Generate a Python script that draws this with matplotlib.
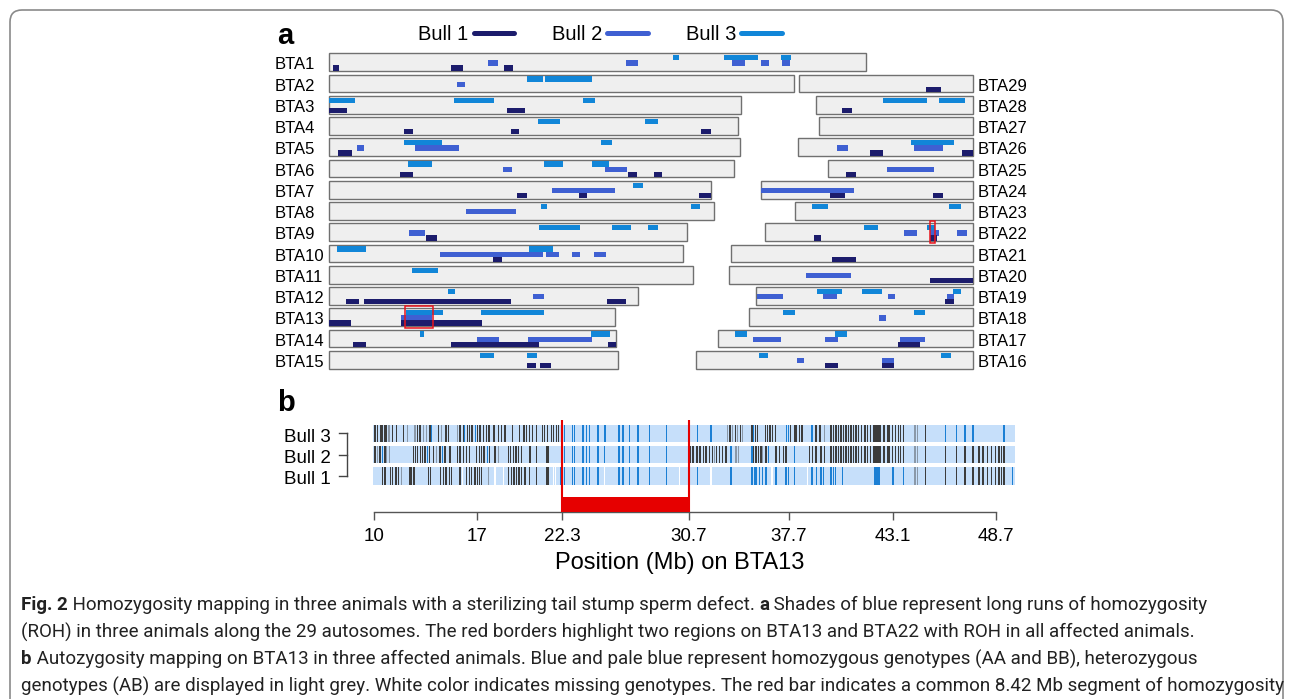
import numpy as np
import matplotlib
matplotlib.use("Agg")
import matplotlib.pyplot as plt
from matplotlib.patches import Rectangle, FancyBboxPatch
from matplotlib.lines import Line2D
from matplotlib.font_manager import FontProperties

plt.rcParams['font.family'] = ['Liberation Sans', 'DejaVu Sans']

W, H = 1293, 699

# chromosome lengths (Mb), BTA1..BTA29
chrom_lengths = [158.3, 137.1, 121.4, 120.7, 121.2, 119.5, 112.6, 113.4, 105.7, 104.3,
                 107.3, 91.2, 84.2, 84.6, 85.3, 81.7, 75.2, 66.0, 64.1, 72.0,
                 71.6, 61.4, 52.5, 62.7, 42.9, 51.7, 45.4, 46.3, 51.5]

bull_names = ['Bull 1', 'Bull 2', 'Bull 3']
bull_colors = ['#1c1c6c', '#3f60d2', '#1186d8']

# runs of homozygosity: (chromosome, start Mb, end Mb)
bull1_roh = [(1, 1.3, 3.0), (1, 36.0, 39.6), (1, 51.6, 54.4),
             (3, 0.0, 5.4), (3, 52.4, 57.9),
             (4, 22.1, 24.8), (4, 53.6, 56.0), (4, 109.8, 112.7),
             (5, 2.6, 6.9),
             (6, 20.9, 24.8), (6, 88.1, 90.9), (6, 95.7, 98.1),
             (7, 55.4, 58.3), (7, 73.8, 76.0), (7, 109.2, 112.6),
             (9, 28.7, 31.9), (10, 48.5, 51.0),
             (12, 4.9, 8.8), (12, 10.4, 53.6), (12, 81.9, 87.7),
             (13, 0.0, 6.6), (13, 21.1, 45.1),
             (14, 7.0, 10.8), (14, 36.0, 62.0), (14, 82.2, 84.6),
             (15, 58.3, 61.1), (15, 62.2, 65.5),
             (16, 38.0, 41.7), (16, 54.8, 58.4), (17, 53.0, 59.5),
             (19, 55.9, 58.3), (20, 59.3, 72.0), (21, 30.0, 36.9),
             (22, 14.4, 16.6), (22, 48.7, 50.6),
             (24, 20.5, 25.0), (24, 50.7, 53.8), (25, 5.5, 8.4),
             (26, 21.1, 25.2), (26, 48.3, 51.7), (28, 7.6, 10.6), (29, 37.6, 42.0)]

bull2_roh = [(1, 46.8, 49.9), (1, 87.6, 91.2), (1, 118.8, 122.8), (1, 127.3, 129.9), (1, 133.6, 135.8),
             (2, 37.7, 40.2), (5, 8.2, 10.3), (5, 25.3, 38.4),
             (6, 51.2, 54.1), (6, 81.4, 87.8), (7, 65.9, 84.2), (8, 40.3, 55.2), (9, 23.5, 28.3),
             (10, 32.7, 63.2), (10, 63.9, 67.8), (10, 71.8, 74.1), (10, 78.2, 81.7),
             (12, 60.3, 63.4), (13, 21.1, 30.5), (14, 43.7, 50.1), (14, 58.7, 77.5),
             (16, 29.6, 31.8), (16, 54.8, 58.4),
             (17, 10.3, 18.5), (17, 31.4, 35.3), (17, 53.6, 61.0), (18, 38.1, 40.3),
             (19, 0.4, 7.9), (19, 19.7, 23.8), (19, 38.9, 41.0), (19, 56.3, 58.3),
             (20, 22.6, 36.0), (22, 41.0, 44.8), (22, 48.5, 51.2), (22, 56.6, 59.4),
             (24, 0.2, 27.6), (25, 17.5, 31.4), (26, 11.6, 14.8), (26, 34.3, 42.8)]

bull3_roh = [(1, 101.3, 103.3), (1, 116.6, 126.6), (1, 133.3, 136.3),
             (2, 58.3, 63.0), (2, 63.7, 77.5),
             (3, 0.0, 7.7), (3, 36.8, 48.8), (3, 74.9, 78.4),
             (4, 61.5, 68.2), (4, 93.2, 97.0), (5, 22.1, 33.4), (5, 80.1, 83.5),
             (6, 23.2, 30.5), (6, 63.4, 68.9), (6, 77.5, 82.7), (7, 89.6, 92.7),
             (8, 62.5, 64.4), (8, 106.8, 109.5),
             (9, 61.9, 74.1), (9, 83.5, 89.0), (9, 94.0, 97.0),
             (10, 2.4, 11.0), (10, 58.9, 66.0), (11, 24.6, 32.2), (12, 35.1, 37.3),
             (13, 22.6, 33.7), (13, 44.8, 63.5), (14, 26.8, 28.1), (14, 77.3, 82.9),
             (15, 44.5, 48.8), (15, 58.3, 61.4), (16, 18.5, 21.2), (16, 72.1, 75.2),
             (17, 4.9, 8.6), (17, 34.3, 37.9), (18, 9.9, 13.4), (18, 48.6, 51.8),
             (19, 18.1, 25.3), (19, 31.2, 37.3), (19, 58.1, 60.5),
             (22, 29.1, 33.3), (22, 47.8, 50.0), (23, 4.8, 9.6), (23, 45.4, 49.0),
             (26, 33.3, 46.1), (28, 19.8, 32.5), (28, 36.2, 43.8)]

common_roh = [(13, 22.3, 30.7), (22, 48.6, 50.0)]

# panel b: BTA13 markers (marker index), ticks in Mb
tick_mb = [10, 17, 22.3, 30.7, 37.7, 43.1, 48.7]
tick_idx = [0, 103, 188, 315, 415, 519, 622]
n_markers = 641
segment_mb = [22.3, 30.7]

bull3_het = [1, 3.3, 7, 8.7, 11, 12.7, 18.7, 22.7, 29.3, 43.7, 46, 56, 64.3, 72, 74.3, 86, 89.3, 93.3,
             95.3, 98, 103.3, 106, 109.3, 112.7, 115, 120, 124.3, 127.7, 131, 138.7, 145.3, 150, 152.7,
             155.3, 158.7, 162.3, 168.3, 170.7, 173.3, 177.3, 179.7, 182.3, 184.7, 356, 361.3, 366.3,
             378, 381.3, 383.7, 391.3, 393.7, 396, 398.7, 401.3, 416.3, 420.3, 422, 425.3, 428, 442,
             446, 457, 459.3, 462, 464.7, 467, 469.3, 472, 474.7, 477, 479.3, 482, 484.7, 487.3, 491,
             493.3, 496.7, 500, 501.5, 503, 504.5, 506, 510, 513.3, 515, 518.3, 521.7, 524.3, 526.7,
             529.3, 551.7]
bull3_faint = [15, 33.7, 41, 49.3, 52.7, 67.7, 83.3, 353.7, 358.7, 363.7, 368.7, 450.3, 541, 543.3]
bull3_hom = [57.7, 90.7, 101.3, 190.7, 198.3, 200.7, 209, 212.3, 215.7, 224, 230.7, 231.7, 245, 249,
             255.7, 264, 275.7, 292.3, 323.7, 337, 379.3, 412.7, 414.7, 438, 571.7, 582.3, 591, 599, 630]
bull3_miss = []

bull2_het = [1, 6, 11, 39.3, 41.7, 43.7, 46.7, 48.7, 51, 55.3, 59.3, 66, 71, 76, 83.3, 86, 89.3, 92.7,
             95.3, 102.7, 105.3, 107.7, 110, 115.3, 121, 134.3, 136.7, 139.3, 142, 144.3, 147.7, 156,
             162.3, 172.3, 174, 316.3, 319, 322.3, 323.7, 326, 329.3, 332, 335.3, 338.7, 342.7, 345.3,
             348.7, 352, 379.3, 382, 384.7, 387, 392, 402, 405.3, 409.3, 412, 435.3, 438.7, 442, 447,
             450.3, 457, 459.3, 462, 464.7, 467, 469.3, 472, 474.7, 477, 479.3, 482, 484.7, 487.3, 491,
             493.3, 496.7, 500, 501.5, 503, 504.5, 506, 510, 513.3, 515, 518.3, 521.7, 524.3, 526.7,
             529.3, 551.7, 571.7, 582.3, 591, 599, 605, 609, 613.3, 617.7, 621.7, 625, 627.7, 630]
bull2_faint = [3.3, 12.7, 15.3, 62.7, 124.3, 340.3, 362, 364.7, 388.7, 541, 543.3]
bull2_hom = [8.7, 53.3, 68.7, 113.3, 190.7, 198.3, 200.7, 209, 212.3, 215.7, 224, 230.7, 245, 249,
             255.7, 264, 275.7, 292.3, 357, 378, 394.7, 420.3]
bull2_miss = []

bull1_het = [8.7, 11, 16.7, 18.7, 22, 24.3, 36, 37.7, 40, 54.3, 56.7, 66.7, 69.3, 72, 75.3, 77.7, 86,
             92.7, 95.3, 97.7, 101, 103.3, 105.3, 107.7, 134.3, 137.7, 140, 142.7, 145, 147.7, 151,
             155.3, 162.3, 172.3, 174, 551.7, 571.7, 582.3, 591, 599, 605, 609, 613.3, 617.7, 621.7,
             625, 627.7, 630]
bull1_faint = [27.7, 114.3, 541, 543.3]
bull1_hom = [186.3, 190.7, 198.3, 200.7, 209, 212.3, 215.7, 224, 245, 249, 255.7, 264, 275.7, 292.3,
             323.7, 357, 378, 380.3, 382, 385.3, 388.7, 392, 402, 412, 414.7, 420.3, 438, 442.7, 447,
             449.3, 457, 459.3, 461.3, 468.7, 501, 502.5, 504, 505.5, 519, 529.3, 638.3]
bull1_miss = [88.7, 121, 129.3, 179.7, 181.7, 230.7, 305.7, 337, 398, 433.7]

caption_lines = [
    [("Fig. 2", 'bold'), (" Homozygosity mapping in three animals with a sterilizing tail stump sperm defect. ", 'normal'),
     ("a", 'bold'), (" Shades of blue represent long runs of homozygosity", 'normal')],
    [("(ROH) in three animals along the 29 autosomes. The red borders highlight two regions on BTA13 and BTA22 with ROH in all affected animals.", 'normal')],
    [("b", 'bold'), (" Autozygosity mapping on BTA13 in three affected animals. Blue and pale blue represent homozygous genotypes (AA and BB), heterozygous", 'normal')],
    [("genotypes (AB) are displayed in light grey. White color indicates missing genotypes. The red bar indicates a common 8.42 Mb segment of homozygosity", 'normal')],
]


def add_px_axes(fig, left, top, width, height):
    return fig.add_axes([left / W, 1 - (top + height) / H, width / W, height / H])


def chrom_row(c, span):
    length = chrom_lengths[c - 1]
    if c <= 15:
        return c - 1, 0.0
    return 30 - c, span - length


def draw_panel_a(fig):
    ax = add_px_axes(fig, 329, 50, 644.3, 321)
    span = 190.0
    ax.set_xlim(0, span)
    ax.set_ylim(14.53, -0.574)
    ax.axis('off')
    for c, length in enumerate(chrom_lengths, start=1):
        row, x0 = chrom_row(c, span)
        ax.add_patch(Rectangle((x0, row - 0.417), length, 0.834, fc='#efefef', ec='#707070',
                               lw=1.0, zorder=1, clip_on=False))
        if c <= 15:
            ax.text(-15.9, row + 0.335, f'BTA{c}', ha='left', va='baseline', fontsize=12, clip_on=False)
        else:
            ax.text(span + 1.25, row + 0.335, f'BTA{c}', ha='left', va='baseline', fontsize=12, clip_on=False)
    tracks = [(bull2_roh, 0.038, bull_colors[1]), (bull3_roh, -0.207, bull_colors[2]), (bull1_roh, 0.273, bull_colors[0])]
    for roh, off, color in tracks:
        rows, lefts, widths = [], [], []
        for c, s, e in roh:
            row, x0 = chrom_row(c, span)
            rows.append(row + off)
            lefts.append(x0 + s)
            widths.append(e - s)
        ax.barh(rows, widths, left=lefts, height=0.25, color=color, lw=0, zorder=2, clip_on=False)
    for c, s, e in common_roh:
        row, x0 = chrom_row(c, span)
        ax.add_patch(Rectangle((x0 + s, row - 0.51), e - s, 1.02, fill=False, ec='#e8141c', lw=1.1, zorder=4))
    handles = [Line2D([], [], color=col, lw=3.6, solid_capstyle='round') for col in bull_colors]
    fig.legend(handles, bull_names, loc='center', bbox_to_anchor=(600 / W, 1 - 35 / H),
               bbox_transform=fig.transFigure, ncol=3, frameon=False, markerfirst=False,
               fontsize=14.5, handlelength=2.0, handletextpad=0.25, columnspacing=1.9)
    fig.text(277 / W, 1 - 44 / H, 'a', fontsize=21, weight='bold', ha='left', va='baseline')


def draw_panel_b(fig):
    ax = add_px_axes(fig, 372, 418, 644, 104)
    ax.set_xlim(-2, 642)
    ax.set_ylim(-2.16, 2.723)
    for s in ['top', 'left', 'right']:
        ax.spines[s].set_visible(False)
    ax.set_yticks([])
    rows = [(bull1_het, bull1_faint, bull1_hom, bull1_miss),
            (bull2_het, bull2_faint, bull2_hom, bull2_miss),
            (bull3_het, bull3_faint, bull3_hom, bull3_miss)]
    hgt = 0.82
    for r, (het, faint, hom, miss) in enumerate(rows):
        ax.barh(r, n_markers + 0.4, left=-0.7, height=hgt, color='#c6dffa', lw=0)
        ax.bar(hom, hgt, width=1.4, bottom=r - hgt / 2, color='#1b7fd4', lw=0)
        ax.bar(faint, hgt, width=1.3, bottom=r - hgt / 2, color='#8a98a8', lw=0)
        ax.bar(het, hgt, width=1.4, bottom=r - hgt / 2, color='#3c3c3c', lw=0)
        if miss:
            ax.bar(miss, hgt, width=1.3, bottom=r - hgt / 2, color='white', lw=0)
        ax.text(-43, r - 0.39, bull_names[r], ha='right', va='baseline', fontsize=13.5, clip_on=False)
        ax.plot([-35, -27], [r, r], color='#444444', lw=1, clip_on=False)
    ax.plot([-27, -27], [0, 2], color='#444444', lw=1, clip_on=False)

    r_axis = -1.69
    ax.spines['bottom'].set_position(('data', r_axis))
    ax.spines['bottom'].set_bounds(tick_idx[0], tick_idx[-1])
    ax.spines['bottom'].set_color('#555555')
    ax.spines['bottom'].set_linewidth(1.0)
    ax.set_xticks(tick_idx)
    ax.set_xticklabels([f'{t:g}' for t in tick_mb])
    ax.tick_params(axis='x', length=5.8, width=1.0, color='#555555', labelsize=13.5, pad=5.5)

    seg = np.interp(segment_mb, tick_mb, tick_idx)
    ax.fill_between(seg, r_axis, -0.986, color='#e60000', lw=0, zorder=3)
    ax.vlines(seg, r_axis, 2.63, color='#e60000', lw=1.5, zorder=3)
    fig.text(680 / W, 1 - 563 / H, 'Position (Mb) on BTA13', fontsize=17, ha='center', va='center')
    fig.text(277 / W, 1 - 410.7 / H, 'b', fontsize=21, weight='bold', ha='left', va='baseline')


def text_width(renderer, s, prop):
    w1 = renderer.get_text_width_height_descent('|' + s + '|', prop, ismath=False)[0]
    w2 = renderer.get_text_width_height_descent('||', prop, ismath=False)[0]
    return w1 - w2


def draw_caption(fig):
    renderer = fig.canvas.get_renderer()
    fam = ['Roboto', 'DejaVu Sans']
    base = 12.0
    targets = [1242, 1182, 1244, 1258]
    ratios = []
    for line, target in zip(caption_lines, targets):
        total = sum(text_width(renderer, txt, FontProperties(family=fam, size=base, weight=wt))
                    for txt, wt in line)
        ratios.append(target / total)
    size = base * min(ratios)
    ys = [605, 632, 659, 686]
    for line, y in zip(caption_lines, ys):
        x = 21.0
        for txt, wt in line:
            prop = FontProperties(family=fam, size=size, weight=wt)
            fig.text(x / W, 1 - y / H, txt, fontproperties=prop, color='#222222', ha='left', va='center')
            x += text_width(renderer, txt, prop)


def draw_frame(fig):
    frame = FancyBboxPatch((0.1, -0.3), 12.73, 7.19, boxstyle='round,pad=0,rounding_size=0.12',
                           transform=fig.dpi_scale_trans, fill=False, ec='#8a8a8a', lw=1.2)
    fig.patches.append(frame)


if __name__ == "__main__":
    fig = plt.figure(figsize=(W / 100, H / 100), dpi=100)
    draw_frame(fig)
    draw_panel_a(fig)
    draw_panel_b(fig)
    draw_caption(fig)
    fig.savefig('out.png', dpi=100)
    plt.close()
